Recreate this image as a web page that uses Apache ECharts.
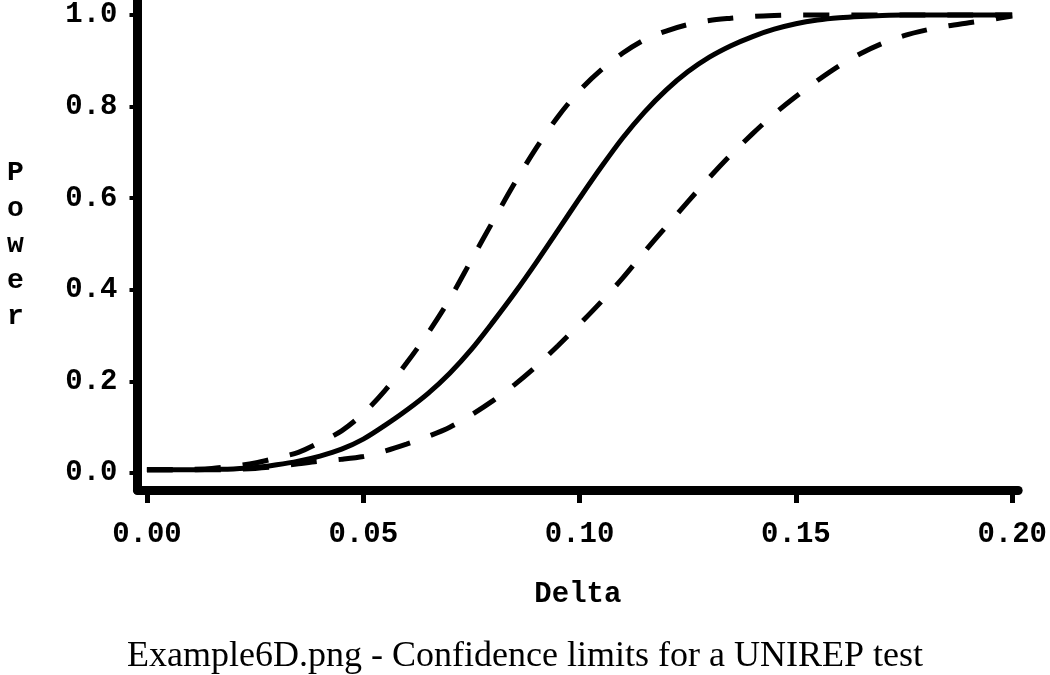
<!DOCTYPE html>
<html>
<head>
<meta charset="utf-8">
<script src="https://cdn.jsdelivr.net/npm/echarts@6/dist/echarts.min.js"></script>
<style>
html,body{margin:0;padding:0;background:#fff;}
#chart{width:1050px;height:675px;}
</style>
</head>
<body>
<div id="chart"></div>
<script>
// Delta values (x)
const delta = [0,0.005,0.01,0.015,0.02,0.025,0.03,0.035,0.04,0.045,0.05,0.055,0.06,0.065,0.07,0.075,0.08,0.085,0.09,0.095,0.10,0.105,0.11,0.115,0.12,0.125,0.13,0.135,0.14,0.145,0.15,0.155,0.16,0.165,0.17,0.175,0.18,0.185,0.19,0.195,0.20];
// Estimated power (solid curve)
const powerEst = [0.007,0.007,0.007,0.008,0.009,0.012,0.018,0.026,0.037,0.052,0.074,0.104,0.137,0.174,0.218,0.270,0.330,0.393,0.460,0.530,0.600,0.668,0.732,0.788,0.836,0.876,0.908,0.933,0.953,0.969,0.981,0.989,0.994,0.997,0.999,1.0,1.0,1.0,1.0,1.0,1.0];
// Upper confidence limit (left dashed curve)
const powerUpper = [0.007,0.007,0.008,0.010,0.015,0.022,0.033,0.045,0.067,0.092,0.130,0.180,0.240,0.306,0.380,0.465,0.550,0.633,0.710,0.778,0.835,0.880,0.917,0.946,0.965,0.979,0.988,0.993,0.997,0.999,1.0,1.0,1.0,1.0,1.0,1.0,1.0,1.0,1.0,1.0,1.0];
// Lower confidence limit (right dashed curve)
const powerLower = [0.007,0.007,0.007,0.007,0.008,0.010,0.014,0.020,0.026,0.030,0.036,0.048,0.063,0.080,0.100,0.127,0.158,0.193,0.233,0.278,0.325,0.374,0.426,0.483,0.538,0.592,0.645,0.695,0.741,0.784,0.822,0.857,0.889,0.916,0.938,0.955,0.967,0.976,0.983,0.990,0.998];
// Tick labels
const xTicks = [0,0.05,0.10,0.15,0.20];
const yTicks = [0,0.2,0.4,0.6,0.8,1.0];

const toPairs = (ys) => delta.map((d, i) => [d, ys[i]]);

const mono = '"Liberation Mono", "DejaVu Sans Mono", monospace';
const chart = echarts.init(document.getElementById('chart'), null, {renderer: 'canvas'});
chart.setOption({
  animation: false,
  backgroundColor: '#ffffff',
  grid: {left: 137.5, right: 27, top: 0, bottom: 185, containLabel: false},
  xAxis: {
    type: 'value',
    min: -0.00218,
    max: 0.20138,
    name: 'Delta',
    nameLocation: 'middle',
    nameGap: 90,
    nameTextStyle: {fontFamily: mono, fontWeight: 'bold', fontSize: 29, color: '#000'},
    axisLine: {show: true, onZero: false, lineStyle: {color: '#000', width: 9}},
    axisTick: {show: true, length: 13, lineStyle: {color: '#000', width: 5}, customValues: xTicks},
    axisLabel: {show: true, margin: 30, fontFamily: mono, fontWeight: 'bold', fontSize: 29, color: '#000',
      customValues: xTicks, formatter: (v) => v.toFixed(2)},
    splitLine: {show: false}
  },
  yAxis: {
    type: 'value',
    min: -0.0371,
    max: 1.0328,
    name: 'P\no\nw\ne\nr',
    nameLocation: 'middle',
    nameRotate: 0,
    nameGap: 122,
    nameTextStyle: {fontFamily: mono, fontWeight: 'bold', fontSize: 28, lineHeight: 36, color: '#000', align: 'center', verticalAlign: 'middle'},
    axisLine: {show: true, onZero: false, lineStyle: {color: '#000', width: 9}},
    axisTick: {show: true, length: 8, lineStyle: {color: '#000', width: 4}, customValues: yTicks},
    axisLabel: {show: true, margin: 20, fontFamily: mono, fontWeight: 'bold', fontSize: 29, color: '#000',
      customValues: yTicks, formatter: (v) => v.toFixed(1)},
    splitLine: {show: false}
  },
  series: [
    {name: 'Power', type: 'line', data: toPairs(powerEst), smooth: 0.3, showSymbol: false, symbol: 'none',
      lineStyle: {color: '#000', width: 5, type: 'solid'}, z: 3},
    {name: 'Upper limit', type: 'line', data: toPairs(powerUpper), smooth: 0.3, showSymbol: false, symbol: 'none',
      lineStyle: {color: '#000', width: 5, type: [26, 22]}, z: 2},
    {name: 'Lower limit', type: 'line', data: toPairs(powerLower), smooth: 0.3, showSymbol: false, symbol: 'none',
      lineStyle: {color: '#000', width: 5, type: [26, 22]}, z: 2}
  ],
  graphic: [
    {type: 'text', left: 'center', top: 639,
      style: {text: 'Example6D.png - Confidence limits for a UNIREP test', fontFamily: '"Liberation Serif", "DejaVu Serif", serif', fontSize: 36, fill: '#000'}}
  ]
});
</script>
</body>
</html>
